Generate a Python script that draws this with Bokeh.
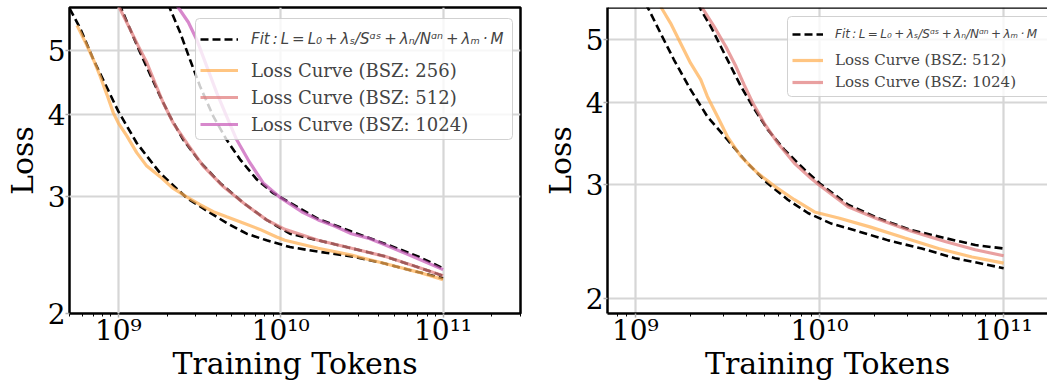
import numpy as np
from bokeh.plotting import figure
from bokeh.models import (Legend, LegendItem, BoxAnnotation, FixedTicker,
                          CustomJSTickFormatter, PrintfTickFormatter, Range1d, Span)
from bokeh.layouts import row
from bokeh.embed import file_html
from bokeh.resources import INLINE

# ---------------- data ----------------
# x values are log10(training tokens), y values are loss
# Left panel
l256_logx = [8.745, 8.80, 8.846, 8.887, 8.93, 8.969, 9.0, 9.052, 9.113, 9.175, 9.257, 9.338,
             9.421, 9.503, 9.585, 9.667, 9.769, 9.872, 9.975, 10.026, 10.231, 10.436, 10.641,
             10.846, 11.0]
l256_loss = [5.45, 5.12, 4.84, 4.57, 4.28, 4.02, 3.88, 3.71, 3.50, 3.34, 3.22, 3.09,
             3.00, 2.92, 2.85, 2.80, 2.74, 2.68, 2.61, 2.58, 2.51, 2.45, 2.38,
             2.31, 2.25]
lfit256_logx = [8.700, 8.764, 8.846, 9.0, 9.113, 9.257, 9.421, 9.564, 9.667, 9.790, 9.913,
                10.057, 10.231, 10.436, 10.641, 10.846, 11.0]
lfit256_loss = [5.78, 5.40, 4.84, 4.04, 3.62, 3.26, 2.99, 2.84, 2.74, 2.64, 2.58,
                2.52, 2.48, 2.44, 2.38, 2.31, 2.26]

l512_logx = [8.995, 9.006, 9.062, 9.123, 9.175, 9.226, 9.277, 9.338, 9.421, 9.523, 9.646,
             9.769, 9.913, 10.026, 10.231, 10.436, 10.641, 10.846, 11.0]
l512_loss = [5.90, 5.80, 5.44, 5.07, 4.79, 4.46, 4.16, 3.88, 3.62, 3.34, 3.11,
             2.94, 2.77, 2.68, 2.58, 2.51, 2.44, 2.35, 2.28]
lfit512_logx = [9.005, 9.072, 9.134, 9.195, 9.257, 9.318, 9.4, 9.503, 9.626, 9.769, 9.913,
                10.057, 10.231, 10.436, 10.641, 10.846, 11.0]
lfit512_loss = [5.88, 5.38, 4.96, 4.60, 4.26, 3.97, 3.66, 3.39, 3.15, 2.94, 2.77,
                2.64, 2.58, 2.51, 2.44, 2.35, 2.28]

l1024_logx = [9.355, 9.365, 9.431, 9.482, 9.544, 9.606, 9.667, 9.729, 9.810, 9.892, 10.0,
              10.129, 10.231, 10.334, 10.436, 10.538, 10.641, 10.744, 10.846, 11.0]
l1024_loss = [5.92, 5.82, 5.51, 5.19, 4.73, 4.31, 3.97, 3.66, 3.38, 3.15, 2.99,
              2.85, 2.77, 2.71, 2.64, 2.60, 2.54, 2.48, 2.42, 2.33]
lfit1024_logx = [9.305, 9.380, 9.441, 9.503, 9.585, 9.667, 9.749, 9.852, 9.954, 10.057,
                 10.231, 10.436, 10.641, 10.846, 11.0]
lfit1024_loss = [5.88, 5.32, 4.84, 4.41, 3.97, 3.66, 3.42, 3.19, 3.04, 2.94,
                 2.78, 2.66, 2.55, 2.44, 2.34]

# Right panel
r512_logx = [9.13, 9.142, 9.191, 9.245, 9.300, 9.355, 9.391, 9.446, 9.500, 9.573, 9.664,
             9.755, 9.864, 9.973, 10.109, 10.273, 10.464, 10.646, 10.828, 11.0]
r512_loss = [5.70, 5.59, 5.30, 4.94, 4.60, 4.34, 4.09, 3.81, 3.55, 3.31, 3.12,
             2.98, 2.84, 2.72, 2.66, 2.58, 2.48, 2.39, 2.32, 2.27]
rfit512_logx = [9.055, 9.073, 9.136, 9.209, 9.300, 9.391, 9.500, 9.609, 9.718, 9.828, 9.937,
                10.064, 10.191, 10.373, 10.555, 10.736, 11.0]
rfit512_loss = [5.68, 5.56, 5.12, 4.66, 4.19, 3.81, 3.51, 3.23, 3.01, 2.84, 2.71,
                2.61, 2.55, 2.46, 2.39, 2.31, 2.23]

r1024_logx = [9.35, 9.364, 9.427, 9.491, 9.546, 9.591, 9.637, 9.700, 9.773, 9.864, 9.955,
              10.0, 10.155, 10.319, 10.5, 10.682, 10.846, 11.0]
r1024_loss = [5.70, 5.59, 5.24, 4.88, 4.55, 4.26, 4.00, 3.72, 3.47, 3.23, 3.06,
              2.99, 2.77, 2.65, 2.54, 2.45, 2.38, 2.33]
rfit1024_logx = [9.340, 9.355, 9.409, 9.464, 9.518, 9.573, 9.637, 9.718, 9.809, 9.918, 10.0,
                 10.155, 10.319, 10.5, 10.682, 10.846, 11.0]
rfit1024_loss = [5.68, 5.56, 5.24, 4.88, 4.55, 4.24, 3.95, 3.64, 3.39, 3.16, 3.01,
                 2.79, 2.66, 2.55, 2.48, 2.42, 2.39]

x_ticks = [1e9, 1e10, 1e11]
x_tick_labels = ["10\u2079", "10\u00b9\u2070", "10\u00b9\u00b9"]
y_ticks = [2, 3, 4, 5]
x_title = "Training Tokens"
y_title = "Loss"

fit_label = ("Fit\u2009:\u2009L\u2009=\u2009L\u2080\u2009+\u2009\u03bb\u209b/S\u1d45\u02e2"
             "\u2009+\u2009\u03bb\u2099/N\u1d45\u207f\u2009+\u2009\u03bb\u2098\u2009\u00b7\u2009M")
left_labels = ["Loss Curve (BSZ: 256)", "Loss Curve (BSZ: 512)", "Loss Curve (BSZ: 1024)"]
right_labels = ["Loss Curve (BSZ: 512)", "Loss Curve (BSZ: 1024)"]

C_ORANGE = "#FFAE52"
C_PINK = "#E07B7B"
C_MAGENTA = "#C85AB8"
CURVE_ALPHA = 0.72

minor_x = [m * 10.0 ** e for e in range(8, 12) for m in range(2, 10)]


def tok(logx):
    return np.power(10.0, np.array(logx))


def base_fig(width, x_rng, y_rng, min_left, min_right):
    p = figure(width=width, height=386, x_axis_type="log", y_axis_type="log",
               x_range=Range1d(*x_rng), y_range=Range1d(*y_rng),
               output_backend="svg", toolbar_location=None,
               min_border_left=min_left, min_border_right=min_right,
               min_border_top=7, min_border_bottom=73)
    p.background_fill_color = "white"
    p.border_fill_color = "white"
    p.grid.grid_line_color = "#d6d6d6"
    p.grid.grid_line_width = 2.2
    p.xaxis.ticker = FixedTicker(ticks=x_ticks, minor_ticks=minor_x)
    p.yaxis.ticker = FixedTicker(ticks=y_ticks, minor_ticks=[])
    p.xaxis.formatter = CustomJSTickFormatter(
        args=dict(tvals=x_ticks, tlabs=x_tick_labels),
        code="""
        for (let i = 0; i < tvals.length; i++) {
            if (Math.abs(Math.log10(tvals[i]) - Math.log10(tick)) < 1e-6) { return tlabs[i]; }
        }
        return "";
        """)
    p.yaxis.formatter = PrintfTickFormatter(format="%d")
    for ax in [p.xaxis, p.yaxis]:
        ax.axis_label_text_font = "DejaVu Serif"
        ax.axis_label_text_font_size = "30px"
        ax.axis_label_text_font_style = "normal"
        ax.axis_label_text_color = "black"
        ax.major_label_text_font = "DejaVu Serif"
        ax.major_label_text_font_size = "28px"
        ax.major_label_text_color = "black"
        ax.major_tick_line_color = "#b0b0b0"
        ax.major_tick_line_width = 1.5
        ax.major_tick_out = 4
        ax.major_tick_in = 0
    p.xaxis.major_label_standoff = -4
    p.xaxis.axis_label_standoff = -4
    p.yaxis.major_label_standoff = 0
    p.yaxis.axis_label_standoff = 5
    p.xaxis.minor_tick_line_color = "black"
    p.xaxis.minor_tick_out = 3
    p.xaxis.minor_tick_in = 0
    p.yaxis.minor_tick_line_color = None
    p.xaxis.axis_label = x_title
    p.yaxis.axis_label = y_title
    return p


def dashed(p, lx, ly):
    return p.line(tok(lx), ly, line_color="black", line_width=2.6, line_dash="8 4")


def solid(p, lx, ly, color):
    return p.line(tok(lx), ly, line_color=color, line_width=3.2, line_alpha=CURVE_ALPHA)


# ---------------- left panel ----------------
pL = base_fig(533, (5e8, 3e11), (2.0, 5.8), 69, 13)
pL.outline_line_color = "black"
pL.outline_line_width = 2.5
pL.axis.axis_line_color = None

f256 = dashed(pL, lfit256_logx, lfit256_loss)
dashed(pL, lfit512_logx, lfit512_loss)
dashed(pL, lfit1024_logx, lfit1024_loss)
c256 = solid(pL, l256_logx, l256_loss, C_ORANGE)
c512 = solid(pL, l512_logx, l512_loss, C_PINK)
c1024 = solid(pL, l1024_logx, l1024_loss, C_MAGENTA)

pL.add_layout(BoxAnnotation(left=126, right=443, bottom=174, top=295,
                            left_units="screen", right_units="screen",
                            top_units="screen", bottom_units="screen",
                            fill_color="white", fill_alpha=0.8, border_radius=4,
                            line_color="#cccccc", line_alpha=0.9, line_width=1))
legLA = Legend(items=[LegendItem(label=fit_label, renderers=[f256])],
               location=(131, 261), glyph_width=38, glyph_height=26, label_standoff=13,
               padding=0, margin=0, spacing=0, border_line_color=None,
               background_fill_alpha=0, label_text_font="DejaVu Sans",
               label_text_font_style="italic", label_text_font_size="15px")
legLB = Legend(items=[LegendItem(label=left_labels[0], renderers=[c256]),
                      LegendItem(label=left_labels[1], renderers=[c512]),
                      LegendItem(label=left_labels[2], renderers=[c1024])],
               location=(131, 176), glyph_width=38, glyph_height=26, label_standoff=13,
               padding=0, margin=0, spacing=1, border_line_color=None,
               background_fill_alpha=0, label_text_font="DejaVu Serif",
               label_text_font_size="18px")
pL.add_layout(legLA)
pL.add_layout(legLB)

# ---------------- right panel (its right side runs past the picture's edge) ----------------
r_xrange = (7.06e8, 1.73e11)
r_yrange = (1.9, 5.6)
pR = base_fig(514, r_xrange, r_yrange, 74, 0)
pR.outline_line_color = None
pR.axis.axis_line_color = "black"
pR.axis.axis_line_width = 2.5
pR.add_layout(Span(location=r_yrange[1], dimension="width", line_color="black", line_width=2.5))

rf512 = dashed(pR, rfit512_logx, rfit512_loss)
dashed(pR, rfit1024_logx, rfit1024_loss)
rc512 = solid(pR, r512_logx, r512_loss, C_ORANGE)
rc1024 = solid(pR, r1024_logx, r1024_loss, C_PINK)

pR.add_layout(BoxAnnotation(left=180, right=450, bottom=217, top=297,
                            left_units="screen", right_units="screen",
                            top_units="screen", bottom_units="screen",
                            fill_color="white", fill_alpha=0.8, border_radius=4,
                            line_color="#cccccc", line_alpha=0.9, line_width=1))
legRA = Legend(items=[LegendItem(label=fit_label, renderers=[rf512])],
               location=(185, 268), glyph_width=31, glyph_height=22, label_standoff=12,
               padding=0, margin=0, spacing=0, border_line_color=None,
               background_fill_alpha=0, label_text_font="DejaVu Sans",
               label_text_font_style="italic", label_text_font_size="12px")
legRB = Legend(items=[LegendItem(label=right_labels[0], renderers=[rc512]),
                      LegendItem(label=right_labels[1], renderers=[rc1024])],
               location=(185, 220), glyph_width=31, glyph_height=22, label_standoff=12,
               padding=0, margin=0, spacing=0, border_line_color=None,
               background_fill_alpha=0, label_text_font="DejaVu Serif",
               label_text_font_size="15px")
pR.add_layout(legRA)
pR.add_layout(legRB)

layout = row(pL, pR)
open("out.html", "w").write(file_html(layout, INLINE))
